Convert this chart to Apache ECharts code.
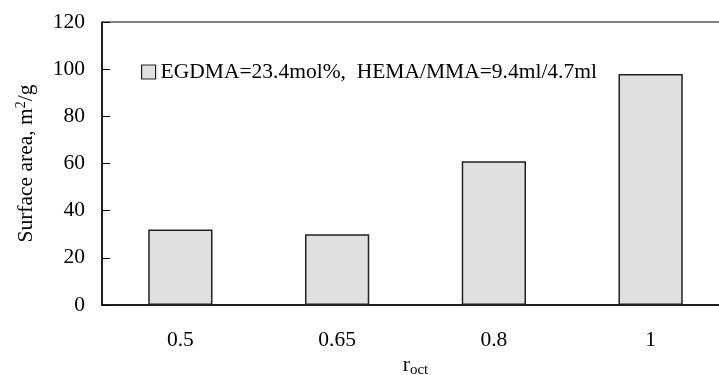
<!DOCTYPE html>
<html>
<head>
<meta charset="utf-8">
<script src="https://cdn.jsdelivr.net/npm/echarts@6/dist/echarts.min.js"></script>
<style>
  html, body { margin: 0; padding: 0; background: #fff; }
  #chart { width: 719px; height: 375px; }
</style>
</head>
<body>
<div id="chart"></div>
<script>
// r_oct categories and surface area values (m2/g)
const categories = ['0.5', '0.65', '0.8', '1']
const surfaceArea = [32, 30, 61, 98]
const seriesName = 'EGDMA=23.4mol%,  HEMA/MMA=9.4ml/4.7ml'

const font = 'Liberation Serif'
const fs = 21.5

const chart = echarts.init(document.getElementById('chart'))
chart.setOption({
  animation: false,
  grid: {
    left: 102,
    width: 627, // plot runs past the right edge of the picture
    top: 22,
    height: 283,
    containLabel: false,
    outerBoundsMode: 'none',
    show: true,
    borderColor: '#000',
    borderWidth: 1
  },
  legend: {
    data: [seriesName],
    left: 136,
    top: 56,
    icon: 'rect',
    itemWidth: 14,
    itemHeight: 14,
    itemGap: 6,
    itemStyle: { color: '#e0e0e0', borderColor: '#222', borderWidth: 1.2 },
    textStyle: { fontFamily: font, fontSize: fs, color: '#000' }
  },
  xAxis: {
    type: 'category',
    data: categories,
    axisLine: { lineStyle: { color: '#000', width: 1.5 } },
    axisTick: { inside: true, length: 7, lineStyle: { color: '#000' } },
    axisLabel: { fontFamily: font, fontSize: fs, color: '#000', margin: 24 },
    name: '{a|r}{b|oct}',
    nameLocation: 'middle',
    nameGap: 48,
    nameMoveOverlap: false,
    nameTextStyle: {
      rich: {
        a: { fontFamily: font, fontSize: fs, color: '#000' },
        b: { fontFamily: font, fontSize: 15, color: '#000', padding: [10, 0, 0, 0] }
      }
    }
  },
  yAxis: {
    type: 'value',
    min: 0,
    max: 120,
    interval: 20,
    splitLine: { show: false },
    axisLine: { show: true, lineStyle: { color: '#000', width: 1.5 } },
    axisTick: { show: true, inside: true, length: 8, lineStyle: { color: '#000' } },
    axisLabel: { fontFamily: font, fontSize: fs, color: '#000', margin: 17 },
    name: '{a|Surface area, m}{s|2}{a|/g}',
    nameLocation: 'middle',
    nameGap: 64,
    nameMoveOverlap: false,
    nameTextStyle: {
      rich: {
        a: { fontFamily: font, fontSize: fs, color: '#000' },
        s: { fontFamily: font, fontSize: 14, color: '#000', padding: [0, 0, 10, 0] }
      }
    }
  },
  series: [{
    name: seriesName,
    type: 'bar',
    data: surfaceArea,
    barWidth: '41%',
    itemStyle: { color: '#e0e0e0', borderColor: '#222', borderWidth: 1.5 }
  }]
})
</script>
</body>
</html>
